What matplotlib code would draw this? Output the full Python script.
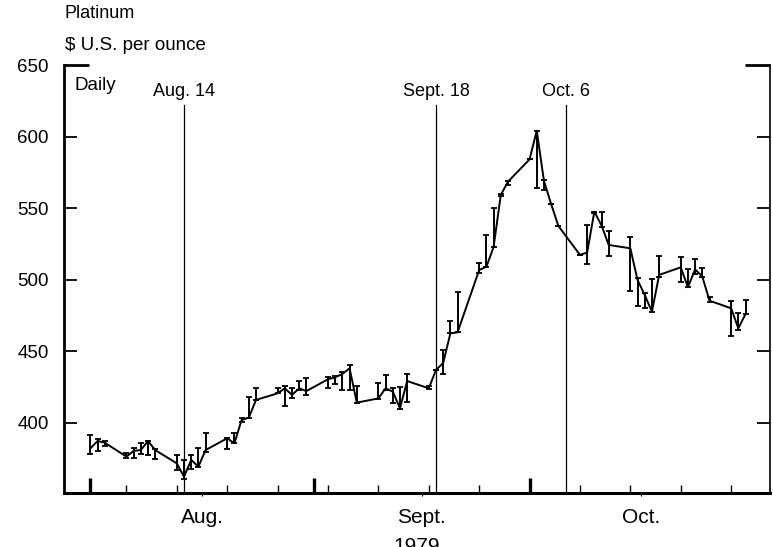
import numpy as np
import matplotlib
matplotlib.use("Agg")
import matplotlib.pyplot as plt

plt.rcParams['font.family'] = ['Liberation Sans', 'DejaVu Sans']

# ---- data (daily platinum price, $ U.S. per ounce, 1979) ----
dates = ["1979-08-01", "1979-08-02", "1979-08-03", "1979-08-06", "1979-08-07", "1979-08-08",
         "1979-08-09", "1979-08-10", "1979-08-13", "1979-08-14", "1979-08-15", "1979-08-16",
         "1979-08-17", "1979-08-20", "1979-08-21", "1979-08-22", "1979-08-23", "1979-08-24",
         "1979-08-27", "1979-08-28", "1979-08-29", "1979-08-30", "1979-08-31", "1979-09-03",
         "1979-09-04", "1979-09-05", "1979-09-06", "1979-09-07", "1979-09-10", "1979-09-11",
         "1979-09-12", "1979-09-13", "1979-09-14", "1979-09-17", "1979-09-18", "1979-09-19",
         "1979-09-20", "1979-09-21", "1979-09-24", "1979-09-25", "1979-09-26", "1979-09-27",
         "1979-09-28", "1979-10-01", "1979-10-02", "1979-10-03", "1979-10-04", "1979-10-05",
         "1979-10-08", "1979-10-09", "1979-10-10", "1979-10-11", "1979-10-12", "1979-10-15",
         "1979-10-16", "1979-10-17", "1979-10-18", "1979-10-19", "1979-10-22", "1979-10-23",
         "1979-10-24", "1979-10-25", "1979-10-26", "1979-10-29", "1979-10-30", "1979-10-31"]
low = [378.4, 380.6, 383.9, 375.4, 375.8, 378.4, 377.7, 374.9, 367.2, 360.9, 367.7, 369.5,
       380.0, 381.6, 385.8, 400.9, 403.7, 416.1, 420.7, 412.1, 417.7, 423.0, 419.6, 424.2,
       427.0, 423.0, 423.0, 414.2, 416.8, 423.0, 413.8, 409.6, 414.9, 423.5, 437.0, 434.2,
       462.6, 463.3, 504.5, 509.1, 522.7, 558.5, 566.2, 584.1, 563.9, 562.7, 552.9, 537.6,
       517.4, 511.0, 546.5, 537.1, 516.8, 492.4, 481.9, 480.1, 477.5, 502.2, 498.7, 494.8,
       504.0, 501.7, 484.7, 461.0, 464.9, 476.1]
high = [391.6, 388.6, 387.4, 379.3, 382.7, 385.8, 387.6, 381.8, 377.7, 374.2, 377.7, 382.3,
        392.8, 389.8, 392.8, 403.7, 418.4, 424.7, 424.2, 426.1, 424.2, 429.5, 431.2, 432.4,
        433.1, 435.8, 440.5, 426.1, 427.7, 433.5, 424.2, 424.9, 434.2, 426.1, 437.0, 451.0,
        471.4, 491.7, 512.0, 531.3, 549.9, 559.9, 569.0, 584.1, 604.1, 569.7, 552.9, 537.6,
        517.4, 538.0, 547.6, 547.6, 534.3, 529.7, 501.5, 491.0, 500.6, 516.6, 515.7, 507.3,
        514.3, 508.0, 487.8, 485.4, 476.6, 485.9]
close = [382.3, 387.4, 386.2, 376.5, 380.5, 381.1, 387.4, 381.1, 371.8, 362.5, 374.2, 369.5,
         381.1, 389.3, 385.8, 402.1, 403.7, 416.1, 420.7, 424.2, 419.6, 424.2, 422.3, 430.5,
         431.9, 434.2, 438.2, 414.2, 417.2, 424.2, 421.9, 410.3, 429.3, 424.2, 437.0, 441.9,
         462.6, 463.3, 506.8, 509.1, 522.7, 559.2, 568.5, 584.1, 604.1, 569.0, 552.9, 537.6,
         517.4, 519.0, 547.6, 537.8, 524.3, 522.0, 499.9, 489.4, 477.7, 503.4, 508.7, 494.8,
         507.3, 502.2, 485.4, 480.1, 466.1, 476.1]

event_dates = ["1979-08-14", "1979-09-18", "1979-10-06"]
event_labels = ["Aug. 14", "Sept. 18", "Oct. 6"]
month_starts = ["1979-08-01", "1979-09-01", "1979-10-01", "1979-11-01"]
month_labels = ["Aug.", "Sept.", "Oct."]
yticks = [400, 450, 500, 550, 600]
ytop = 650

# ---- helpers ----
origin = np.datetime64("1979-08-01")
def dnum(lst):
    return (np.array(lst, dtype="datetime64[D]") - origin).astype(float)

x = dnum(dates)
lo = np.array(low); hi = np.array(high); cl = np.array(close)
weekly = dnum(np.arange(np.datetime64("1979-08-06"), np.datetime64("1979-11-01"), 7))
ms = dnum(month_starts)
mid_months = (ms[:-1] + ms[1:]) / 2

fig = plt.figure(figsize=(7.73, 5.47), dpi=100)
ax = fig.add_axes([64/773, 1-493/547, (770-64)/773, (493-65)/547])

ax.errorbar(x, cl, yerr=[cl-lo, hi-cl], fmt='-', color='black', lw=1.4,
            elinewidth=1.4, capsize=2.4, capthick=1.3)

for d, lab in zip(dnum(event_dates), event_labels):
    ax.axvline(d, ymin=0, ymax=(493-105)/428, color='black', lw=0.9)
    ax.text(d, (493-91)/428, lab, transform=ax.get_xaxis_transform(), ha='center',
            va='center', fontsize=13)

ax.text(10/706, (493-85)/428, "Daily", transform=ax.transAxes, ha='left',
        va='center', fontsize=13.5)

ax.set_xlim(-3.67, 94.4)
ax.set_ylim(351.1, 650)

# y ticks
ax.set_yticks(yticks)
ax.set_yticks([ytop], minor=True)
ax.set_yticklabels([str(v) for v in yticks], fontsize=13.5)
ax.set_yticklabels([str(ytop)], minor=True, fontsize=13.5)
ax.tick_params(axis='y', which='major', direction='in', length=9.5, width=1.3,
               left=True, right=True, pad=11)
ax.tick_params(axis='y', which='minor', direction='in', length=18, width=2,
               left=True, right=True, pad=11)

# x ticks: weekly (major, inward), month labels at mid-month (minor)
ax.xaxis.remove_overlapping_locs = False
ax.set_xticks(weekly)
ax.set_xticklabels([])
ax.tick_params(axis='x', which='major', direction='in', length=5.5, width=1.0)
ax.set_xticks(mid_months, minor=True)
ax.set_xticklabels(month_labels, minor=True, fontsize=15)
ax.tick_params(axis='x', which='minor', direction='out', length=2, width=0.8, pad=9)

sec = ax.secondary_xaxis('bottom')
sec.set_xticks(ms[:-1])
sec.set_xticklabels([])
sec.tick_params(direction='in', length=11, width=2.4)
sec.spines['bottom'].set_visible(False)

ax.spines['top'].set_visible(False)
ax.spines['left'].set_linewidth(2.0)
ax.spines['bottom'].set_linewidth(2.2)
ax.spines['right'].set_linewidth(1.2)

fig.text(65/773, 1-13/547, "Platinum", ha='left', va='center', fontsize=13)
fig.text(65/773, 1-46/547, "$ U.S. per ounce", ha='left', va='center', fontsize=13.5)
fig.text(417/773, 1-547/547, "1979", ha='center', va='center', fontsize=15)

fig.savefig("out.png", dpi=100)
